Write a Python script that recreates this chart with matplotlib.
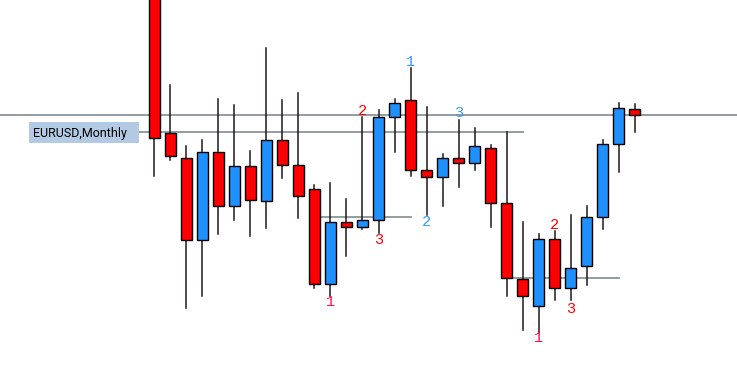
import matplotlib
matplotlib.use('Agg')
import matplotlib.pyplot as plt
from matplotlib.patches import Rectangle

# monthly candles, oldest first
opens = [1.435, 1.282, 1.257, 1.175, 1.263, 1.209, 1.249, 1.214, 1.275, 1.250,
         1.226, 1.131, 1.193, 1.188, 1.195, 1.298, 1.315, 1.245, 1.238, 1.257,
         1.252, 1.267, 1.212, 1.136, 1.109, 1.176, 1.127, 1.149, 1.198, 1.271, 1.306]
highs = [1.455, 1.330, 1.269, 1.275, 1.316, 1.310, 1.264, 1.367, 1.315, 1.322,
         1.230, 1.232, 1.216, 1.298, 1.305, 1.316, 1.347, 1.308, 1.261, 1.295,
         1.287, 1.270, 1.283, 1.193, 1.181, 1.184, 1.200, 1.209, 1.275, 1.312, 1.311]
lows = [1.239, 1.255, 1.107, 1.119, 1.181, 1.195, 1.179, 1.187, 1.237, 1.197,
        1.127, 1.119, 1.159, 1.186, 1.182, 1.263, 1.239, 1.200, 1.209, 1.228,
        1.245, 1.188, 1.119, 1.085, 1.082, 1.115, 1.115, 1.130, 1.186, 1.243, 1.283]
closes = [1.277, 1.259, 1.175, 1.263, 1.209, 1.249, 1.215, 1.275, 1.250, 1.219,
          1.131, 1.193, 1.188, 1.195, 1.298, 1.312, 1.245, 1.238, 1.257, 1.252,
          1.269, 1.212, 1.137, 1.119, 1.176, 1.127, 1.147, 1.198, 1.271, 1.307, 1.300]

# horizontal levels: (price, first candle, last candle)
levels = [(1.300, None, None), (1.283, -1.0, 23.0), (1.198, 10.0, 16.0), (1.137, 22.0, 29.0)]

# wave counts: (candle index, price, text, colour)
marks = [(11, 1.113, '1', '#ff1050'), (13, 1.304, '2', 'red'), (14, 1.175, '3', 'red'),
         (16, 1.353, '1', '#3399ff'), (17, 1.193, '2', '#3399ff'), (19, 1.302, '3', '#3399ff'),
         (24, 1.077, '1', '#ff1050'), (25, 1.190, '2', 'red'), (26, 1.106, '3', 'red')]

fig = plt.figure(figsize=(7.37, 3.72), dpi=100)
ax = fig.add_axes([0, 0, 1, 1])
ax.set_xlim(-9.656, 36.406)
ax.set_ylim(1.043, 1.415)
ax.axis('off')

for p, a, b in levels:
    if a is None:
        ax.axhline(p, color='#808a94', lw=1.2, zorder=1)
    else:
        ax.plot([a, b], [p, p], color='#808a94', lw=1.2, zorder=1)

w = 0.69
for i in range(len(opens)):
    o, h, l, c = opens[i], highs[i], lows[i], closes[i]
    col = '#1e90ff' if c > o else '#ff0000'
    ax.plot([i, i], [l, h], color='#201818', lw=1.1, zorder=2)
    lo = min(o, c)
    ax.add_patch(Rectangle((i - w / 2, lo), w, abs(c - o), facecolor=col,
                           edgecolor='black', lw=1.0, zorder=3))

for i, p, t, col in marks:
    ax.text(i, p, t, color=col, fontsize=11, family='Liberation Mono',
            ha='center', va='center', zorder=4)

# symbol label box
fig.add_artist(Rectangle((29 / 737, 1 - 143 / 372), 110 / 737, 21 / 372,
                         transform=fig.transFigure, facecolor='#b3cae4',
                         edgecolor='none', zorder=5))
fig.text(33 / 737, 1 - 133 / 372, 'EURUSD,Monthly', fontsize=9, family='Roboto',
         color='black', va='center', ha='left', zorder=6)

fig.savefig('out.png', dpi=100)
